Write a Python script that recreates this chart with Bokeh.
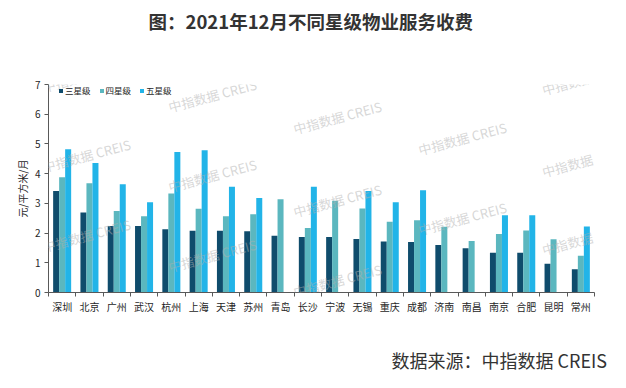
from bokeh.plotting import figure
from bokeh.models import (ColumnDataSource, Range1d, FixedTicker, Legend,
                          LegendItem, Label, Title, LinearAxis)
from bokeh.transform import dodge
from bokeh.embed import file_html
from bokeh.resources import INLINE

cities = ["深圳", "北京", "广州", "武汉", "杭州", "上海", "天津", "苏州", "青岛", "长沙",
          "宁波", "无锡", "重庆", "成都", "济南", "南昌", "南京", "合肥", "昆明", "常州"]
star3 = [3.42, 2.69, 2.24, 2.24, 2.13, 2.08, 2.08, 2.06, 1.91, 1.87,
         1.87, 1.80, 1.72, 1.70, 1.60, 1.49, 1.34, 1.34, 0.97, 0.78]
star4 = [3.88, 3.68, 2.74, 2.57, 3.33, 2.82, 2.57, 2.63, 3.14, 2.17,
         3.09, 2.83, 2.38, 2.43, 2.21, 1.73, 1.97, 2.09, 1.79, 1.24]
star5 = [4.82, 4.36, 3.64, 3.04, 4.73, 4.79, 3.56, 3.18, None, 3.56,
         None, 3.42, 3.04, 3.44, None, None, 2.60, 2.60, None, 2.22]
series_names = ["三星级", "四星级", "五星级"]
series_colors = ["#0f4c6c", "#5bb7bf", "#22b4e8"]
y_ticks = [0, 1, 2, 3, 4, 5, 6, 7]
title_text = "图：2021年12月不同星级物业服务收费"
source_text = "数据来源：中指数据 CREIS"
y_label = "元/平方米/月"

FONT = "Noto Sans CJK SC"
n = len(cities)
centers = [i + 0.5 for i in range(n)]

p = figure(width=618, height=380, x_range=Range1d(0, n), y_range=Range1d(0, 7),
           output_backend="svg", toolbar_location=None,
           min_border_left=48, min_border_right=24,
           min_border_top=84, min_border_bottom=88)
p.xgrid.visible = False
p.ygrid.visible = False
p.outline_line_color = None
p.background_fill_color = "white"
p.border_fill_color = "white"

bw = 0.22
offsets = [-bw, 0.0, bw]
renderers = []
for vals, off, col in zip([star3, star4, star5], offsets, series_colors):
    xs = [c for c, v in zip(centers, vals) if v is not None]
    ys = [v for v in vals if v is not None]
    src = ColumnDataSource(dict(x=xs, top=ys))
    r = p.vbar(x=dodge("x", off), top="top", width=bw, bottom=0, source=src,
               fill_color=col, line_color=None)
    renderers.append(r)

# axes
xa = p.xaxis[0]
xa.ticker = FixedTicker(ticks=centers, minor_ticks=list(range(n + 1)))
xa.major_label_overrides = {c: name for c, name in zip(centers, cities)}
xa.major_tick_out = 0
xa.major_tick_in = 0
xa.minor_tick_out = 4
xa.minor_tick_in = 0
xa.minor_tick_line_color = "#595959"
xa.axis_line_color = "#595959"
xa.major_label_standoff = 2
xa.major_label_text_font = FONT
xa.major_label_text_font_size = "10px"
xa.major_label_text_color = "#262626"

ya = p.yaxis[0]
ya.ticker = FixedTicker(ticks=y_ticks)
ya.major_tick_out = 4
ya.major_tick_in = 0
ya.minor_tick_line_color = None
ya.axis_line_color = "#595959"
ya.major_tick_line_color = "#595959"
ya.major_label_standoff = 4
ya.major_label_text_font = FONT
ya.major_label_text_font_size = "10px"
ya.major_label_text_color = "#262626"
ya.axis_label = y_label
ya.axis_label_text_font = FONT
ya.axis_label_text_font_size = "10px"
ya.axis_label_text_font_style = "normal"
ya.axis_label_text_color = "#262626"
ya.axis_label_standoff = 2

legend = Legend(items=[LegendItem(label=nm, renderers=[r]) for nm, r in zip(series_names, renderers)],
                orientation="horizontal", location=(10, 196),
                glyph_width=5, glyph_height=5, label_height=10, label_standoff=2,
                spacing=8, padding=0, margin=0, border_line_color=None,
                background_fill_alpha=0, label_text_font=FONT,
                label_text_font_size="8.5px", label_text_color="#262626")
p.add_layout(legend, "center")

# watermarks (page coords -> frame coords)
wm = [(86, 75, "中指数据 CREIS"), (86, 155, "中指数据 CREIS"), (86, 235, "中指数据 CREIS"),
      (212, 95, "中指数据 CREIS"), (212, 175, "中指数据 CREIS"), (212, 255, "中指数据 CREIS"),
      (337, 117, "中指数据 CREIS"), (337, 200, "中指数据 CREIS"), (337, 280, "中指数据 CREIS"),
      (462, 138, "中指数据 CREIS"), (462, 218, "中指数据 CREIS"),
      (567, 83, "中指数据"), (567, 165, "中指数据"), (567, 243, "中指数据")]
for px, py, t in wm:
    p.add_layout(Label(x=px - 48, y=292 - py, x_units="screen", y_units="screen", text=t,
                       angle=0.26, text_align="center", text_baseline="middle",
                       text_font=FONT, text_font_size="13px", text_color="#b0b0b0",
                       text_alpha=0.5))


def spacer(size):
    # invisible axis used only to reserve vertical space in a side panel
    return LinearAxis(ticker=FixedTicker(ticks=[n]), major_label_overrides={n: ""},
                      major_tick_out=size, major_tick_in=0,
                      minor_tick_out=0, minor_tick_in=0, major_tick_line_color="white",
                      minor_tick_line_color=None, axis_line_color=None,
                      major_label_text_font_size="0px", major_label_standoff=0)


p.add_layout(spacer(48), "above")
p.add_layout(Title(text=title_text, align="left", offset=100, standoff=6,
                   text_font=FONT, text_font_size="18.5px", text_font_style="bold",
                   text_color="#333333"), "above")
p.add_layout(spacer(23), "below")
p.add_layout(Title(text=source_text, align="left", offset=343, standoff=10,
                   text_font=FONT, text_font_size="18px", text_font_style="normal",
                   text_color="#333333"), "below")

open("out.html", "w").write(file_html(p, INLINE))
